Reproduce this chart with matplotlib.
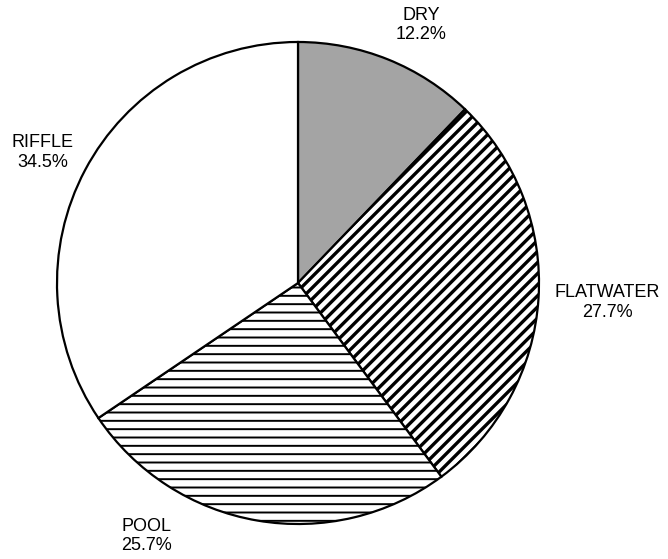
import matplotlib
matplotlib.use("Agg")
import matplotlib.pyplot as plt

# Habitat share by channel unit type
habitats = ["DRY", "FLATWATER", "POOL", "RIFFLE"]
shares = [12.2, 27.7, 25.7, 34.5]
fills = ["#a4a4a4", "white", "white", "white"]
hatches = [None, "///", "--", None]
hatch_widths = [1.0, 2.4, 1.4, 1.0]

# label anchors (pie radius = 1)
label_xy = [(0.510, 1.071), (1.284, -0.080), (-0.627, -1.050), (-1.060, 0.541)]

plt.rcParams["font.family"] = ["Liberation Sans", "DejaVu Sans"]
plt.rcParams["hatch.linewidth"] = 1.6

fig = plt.figure(figsize=(6.68, 5.59), dpi=100)
ax = fig.add_axes([57 / 668, 35 / 559, 482 / 668, 482 / 559])

wedges, _ = ax.pie(shares, startangle=90, counterclock=False, colors=fills,
                   wedgeprops=dict(edgecolor="black", linewidth=1.6))
for w, h, hw in zip(wedges, hatches, hatch_widths):
    if h:
        w.set_hatch(h)
        if hasattr(w, "set_hatch_linewidth"):
            w.set_hatch_linewidth(hw)
        else:
            w._hatch_linewidth = hw

for name, val, (x, y) in zip(habitats, shares, label_xy):
    ax.text(x, y, f"{name}\n{val:.1f}%", ha="center", va="center",
            fontsize=13, linespacing=1.2, clip_on=False)

ax.set_xlim(-1, 1)
ax.set_ylim(-1, 1)
ax.set_aspect("equal")
ax.axis("off")

fig.savefig("out.png", dpi=100)
